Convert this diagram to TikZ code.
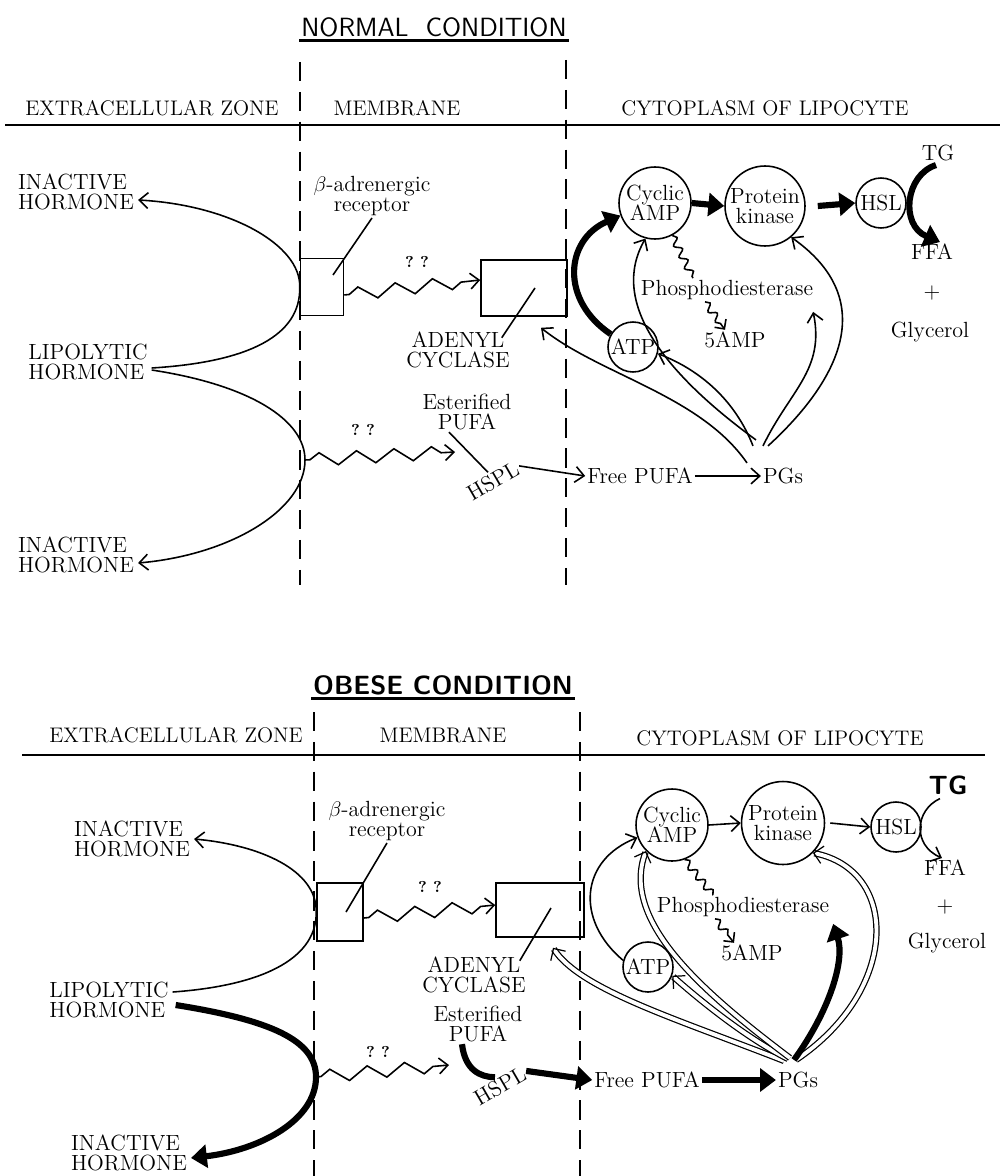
\documentclass[tikz,border=0pt]{standalone}
\usepackage{tikz}
\usetikzlibrary{arrows.meta,decorations.pathmorphing,calc}
\tikzset{
  lbl/.style={font=\fontsize{12.5}{11.5}\selectfont, inner sep=1pt, align=center},
  hdr/.style={font=\fontsize{12}{14}\selectfont, inner sep=1pt},
  ttl/.style={font=\sffamily\fontsize{15}{17}\selectfont, inner sep=1pt},
  enz/.style={circle, draw, line width=0.9pt, inner sep=0pt, font=\fontsize{12.5}{11.5}\selectfont, align=center},
  recbox/.style={draw, line width=0.9pt, inner sep=0pt},
  memline/.style={line width=1pt, dash pattern=on 11pt off 6pt},
  thinln/.style={line width=0.9pt},
  tharr/.style={thinln, -{Straight Barb[length=5pt,width=9pt]}},
  fatarr/.style={line width=3.5pt, -{Triangle[length=9pt,width=13pt]}},
  dbl/.style={line width=0.7pt, double distance=2.2pt, -{Straight Barb[length=5pt,width=10pt]}},
  zz/.style={thinln, decorate, decoration={zigzag, segment length=0.75cm, amplitude=0.13cm, pre length=0.1cm, post length=0.25cm}, -{Straight Barb[length=5pt,width=9pt]}},
  wavy/.style={thinln, decorate, decoration={snake, segment length=0.25cm, amplitude=0.07cm}},
  wavyarr/.style={thinln, decorate, decoration={snake, segment length=0.25cm, amplitude=0.07cm, post length=0.15cm}, -{Straight Barb[length=4pt,width=8pt]}}
}

\begin{document}
\begin{tikzpicture}[x=0.02cm,y=-0.02cm]
  \useasboundingbox (0,0) rectangle (1001,1176);

  % normal condition
  \node[ttl] (ttl1) at (434,27) {NORMAL\ \ CONDITION};
  \draw[line width=1.8pt] ($(ttl1.south west)+(0,2)$) -- ($(ttl1.south east)+(0,2)$);
  \draw[memline] (300,62) -- (300,585);
  \draw[memline] (566,60) -- (566,585);
  \node[hdr] (ext1) at (152,108) {EXTRACELLULAR ZONE};
  \node[hdr] (mem1) at (397,108) {MEMBRANE};
  \node[hdr] (cyt1) at (765,108) {CYTOPLASM OF LIPOCYTE};
  \draw[line width=1pt] (5,125) -- (1000,125);

  \node[lbl,align=left] (inact1a) at (76,192) {INACTIVE\\HORMONE};
  \node[lbl,align=left] (lipo1)   at (88,362) {LIPOLYTIC\\HORMONE};
  \node[lbl,align=left] (inact1b) at (76,555) {INACTIVE\\HORMONE};
  \node[lbl] (beta1) at (372,196) {$\beta$-adrenergic\\receptor};
  \node[recbox,minimum width=0.86cm,minimum height=1.14cm] (rec1) at (322,287) {};
  \node[recbox,minimum width=1.72cm,minimum height=1.12cm] (ac1) at (524,288) {};
  \node[lbl] (ac1lbl) at (458,350) {ADENYL\\CYCLASE};
  \node[lbl,font=\bfseries\small] (q1a) at (417,262) {?\ ?};
  \node[lbl,font=\bfseries\small] (q1b) at (363,430) {?\ ?};
  \node[lbl] (epufa1) at (467,412) {Esterified\\PUFA};
  \node[lbl,rotate=30] (hspl1) at (493,481) {HSPL};
  \node[lbl] (fpufa1) at (640,476) {Free PUFA};
  \node[lbl] (pgs1) at (783,476) {PGs};
  \coordinate (apx1) at (305,460);
  \coordinate (zzb1) at (455,452);

  \node[enz,minimum size=1.44cm] (camp1) at (655,203) {Cyclic\\AMP};
  \node[enz,minimum size=1.6cm] (pk1) at (765,206) {Protein\\kinase};
  \node[enz,minimum size=1cm] (hsl1) at (881,203) {HSL};
  \node[enz,minimum size=1cm] (atp1) at (633,347) {ATP};
  \node[lbl] (pde1) at (727,290) {Phosphodiesterase};
  \node[lbl] (amp1) at (735,340) {5AMP};
  \node[lbl] (tg1) at (938,153) {TG};
  \node[lbl] (ffa1) at (932,252) {FFA};
  \node[lbl] (plus1) at (932,293) {+};
  \node[lbl] (gly1) at (930,332) {Glycerol};

  \draw[tharr] ($(lipo1.east)+(2,6)$) .. controls (250,362) and (301,335) .. (rec1.west)
     .. controls (301,245) and (230,205) .. ($(inact1a.east)+(2,8)$);
  \draw[tharr] ($(lipo1.east)+(2,8)$) .. controls (250,385) and (305,420) .. (apx1)
     .. controls (305,510) and (230,555) .. ($(inact1b.east)+(2,8)$);
  \draw[thinln] (beta1.south) -- ($(rec1.center)+(11,-12)$);
  \draw[zz] ($(rec1.east)+(0,8)$) -- ($(ac1.west)+(0,-8)$);
  \draw[thinln] ($(ac1.center)+(11,0)$) -- ($(ac1lbl.north east)+(-10,8)$);
  \draw[zz] (apx1) -- (zzb1);
  \draw[thinln] ($(epufa1.south)+(-18,0)$) -- (hspl1.north);
  \draw[tharr] (hspl1.east) -- (fpufa1.west);
  \draw[tharr] (fpufa1.east) -- (pgs1.west);

  \draw[fatarr] (camp1.east) -- (pk1.west);
  \draw[fatarr] ($(pk1.east)+(12,0)$) -- (hsl1.west);
  \draw[fatarr] ($(tg1.south)+(-2,2)$) .. controls (905,175) and (900,225) .. ($(ffa1.north)+(8,0)$);
  \draw[fatarr] (atp1.150) .. controls (560,300) and (565,240) .. (camp1.200);
  \draw[wavy] (camp1.-62) -- ($(pde1.north)+(-34,0)$);
  \draw[wavyarr] ($(pde1.south)+(-22,0)$) -- ($(amp1.north)+(-10,0)$);

  \draw[tharr] ($(pgs1.north)+(-36,-3)$) .. controls (700,395) and (600,375) .. ($(ac1.south)+(17,11)$);
  \draw[tharr] ($(pgs1.north)+(-30,-20)$) .. controls (735,400) and (700,370) .. (atp1.-15);
  \draw[tharr] ($(pgs1.north)+(-27,-26)$) .. controls (660,370) and (610,300) .. (camp1.255);
  \draw[tharr] ($(pgs1.north)+(-20,-20)$) .. controls (790,390) and (825,370) .. ($(pde1.south east)+(-2,10)$);
  \draw[tharr] ($(pgs1.north)+(-15,-20)$) .. controls (840,380) and (880,300) .. (pk1.-50);

  % obese condition
  \node[ttl,font=\sffamily\bfseries\fontsize{15}{17}\selectfont] (ttl2) at (443,685) {OBESE\ CONDITION};
  \draw[line width=1.8pt] ($(ttl2.south west)+(0,2)$) -- ($(ttl2.south east)+(0,2)$);
  \draw[memline] (314,712) -- (314,1176);
  \draw[memline] (580,712) -- (580,1176);
  \node[hdr] (ext2) at (176,735) {EXTRACELLULAR ZONE};
  \node[hdr] (mem2) at (443,735) {MEMBRANE};
  \node[hdr] (cyt2) at (780,738) {CYTOPLASM OF LIPOCYTE};
  \draw[line width=1pt] (22,755) -- (985,755);

  \node[lbl,align=left] (inact2a) at (132,839) {INACTIVE\\HORMONE};
  \node[lbl,align=left] (lipo2)   at (109,1000) {LIPOLYTIC\\HORMONE};
  \node[lbl,align=left] (inact2b) at (129,1153) {INACTIVE\\HORMONE};
  \node[lbl] (beta2) at (387,821) {$\beta$-adrenergic\\receptor};
  \node[recbox,minimum width=0.92cm,minimum height=1.16cm] (rec2) at (340,912) {};
  \node[recbox,minimum width=1.76cm,minimum height=1.08cm] (ac2) at (540,910) {};
  \node[lbl] (ac2lbl) at (474,975) {ADENYL\\CYCLASE};
  \node[lbl,font=\bfseries\small] (q2a) at (430,887) {?\ ?};
  \node[lbl,font=\bfseries\small] (q2b) at (378,1052) {?\ ?};
  \node[lbl] (epufa2) at (478,1024) {Esterified\\PUFA};
  \node[lbl,rotate=30] (hspl2) at (500,1086) {HSPL};
  \node[lbl] (fpufa2) at (647,1080) {Free PUFA};
  \node[lbl] (pgs2) at (798,1080) {PGs};
  \coordinate (apx2) at (316,1077);
  \coordinate (zzb2) at (449,1065);

  \node[enz,minimum size=1.44cm] (camp2) at (672,825) {Cyclic\\AMP};
  \node[enz,minimum size=1.66cm] (pk2) at (783,823) {Protein\\kinase};
  \node[enz,minimum size=1cm] (hsl2) at (896,827) {HSL};
  \node[enz,minimum size=1cm] (atp2) at (648,967) {ATP};
  \node[lbl] (pde2) at (743,907) {Phosphodiesterase};
  \node[lbl] (amp2) at (752,953) {5AMP};
  \node[ttl,font=\sffamily\bfseries\fontsize{15}{17}\selectfont] (tg2) at (948,785) {TG};
  \node[lbl] (ffa2) at (945,868) {FFA};
  \node[lbl] (plus2) at (945,907) {+};
  \node[lbl] (gly2) at (947,943) {Glycerol};

  \draw[tharr] ($(lipo2.east)+(2,-8)$) .. controls (270,985) and (317,955) .. (rec2.west)
     .. controls (317,870) and (260,845) .. ($(inact2a.east)+(2,0)$);
  \draw[fatarr] ($(lipo2.east)+(5,5)$) .. controls (270,1020) and (316,1040) .. (apx2)
     .. controls (316,1120) and (260,1150) .. ($(inact2b.east)+(2,5)$);
  \draw[thinln] (beta2.south) -- ($(rec2.center)+(6,0)$);
  \draw[zz] ($(rec2.east)+(0,6)$) -- ($(ac2.west)+(0,-5)$);
  \draw[thinln] ($(ac2.center)+(11,-2)$) -- ($(ac2lbl.north east)+(-8,6)$);
  \draw[zz] (apx2) -- (zzb2);
  \draw[line width=3.5pt] ($(epufa2.south)+(-16,0)$) .. controls (465,1070) and (480,1077) .. (hspl2.north);
  \draw[fatarr] (hspl2.east) -- (fpufa2.west);
  \draw[fatarr] (fpufa2.east) -- (pgs2.west);

  \draw[tharr] (camp2.east) -- (pk2.west);
  \draw[tharr] ($(pk2.east)+(5,0)$) -- (hsl2.west);
  \draw[tharr] ($(tg2.south)+(-8,2)$) .. controls (915,810) and (912,845) .. ($(ffa2.north)+(-3,0)$);
  \draw[tharr] (atp2.165) .. controls (575,920) and (580,860) .. (camp2.200);
  \draw[wavy] (camp2.-70) -- ($(pde2.north)+(-30,0)$);
  \draw[wavyarr] ($(pde2.south)+(-28,0)$) -- ($(amp2.north)+(-18,0)$);

  \draw[dbl] ($(pgs2.north)+(-14,-9)$) .. controls (680,1020) and (580,990) .. ($(ac2.south)+(13,10)$);
  \draw[dbl] ($(pgs2.north)+(-10,-11)$) .. controls (750,1040) and (705,1005) .. (atp2.-20);
  \draw[dbl] ($(pgs2.north)+(-8,-12)$) .. controls (700,990) and (620,920) .. (camp2.225);
  \draw[dbl] ($(pgs2.north)+(-2,-10)$) .. controls (900,990) and (900,870) .. (pk2.-45);
  \draw[fatarr] ($(pgs2.north)+(-4,-10)$) .. controls (830,1010) and (845,960) .. ($(pde2.south east)+(2,5)$);
\end{tikzpicture}
\end{document}
